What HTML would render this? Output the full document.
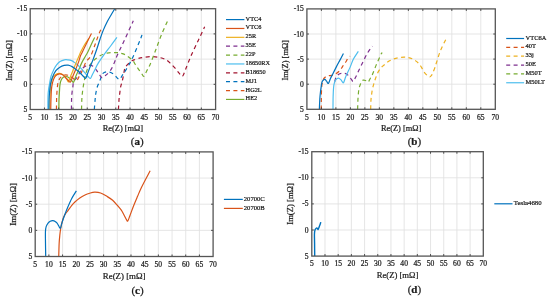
<!DOCTYPE html>
<html><head><meta charset="utf-8"><style>
html,body{margin:0;padding:0;background:#fff;overflow:hidden;}
svg{display:block;will-change:transform;}
text{font-family:"Liberation Serif", serif;stroke:#1a1a1a;stroke-width:0.22px;}
</style></head><body>
<svg width="550" height="299" viewBox="0 0 550 299" font-family='"Liberation Serif", serif' fill="#1a1a1a" stroke="none"><rect width="550" height="299" fill="#fff"/><path d="M44.46 8.70V109.50M58.72 8.70V109.50M72.98 8.70V109.50M87.25 8.70V109.50M101.51 8.70V109.50M115.77 8.70V109.50M130.03 8.70V109.50M144.29 8.70V109.50M158.55 8.70V109.50M172.82 8.70V109.50M187.08 8.70V109.50M201.34 8.70V109.50M30.20 33.90H215.60M30.20 59.10H215.60M30.20 84.30H215.60" stroke="#e0e0e0" stroke-width="0.85" fill="none"/><path d="M118.42 109.50 C118.52 107.85 118.79 102.40 119.02 99.62 C119.25 96.84 119.54 95.00 119.82 92.82 C120.10 90.63 120.27 88.60 120.70 86.52 C121.14 84.43 121.91 82.45 122.42 80.32 C122.92 78.18 123.34 75.74 123.76 73.72 C124.17 71.69 124.28 69.68 124.90 68.17 C125.51 66.66 126.37 65.82 127.46 64.64 C128.56 63.47 130.36 61.91 131.46 61.12 C132.55 60.32 132.84 60.32 134.02 59.86 C135.21 59.39 136.92 58.76 138.59 58.34 C140.25 57.92 141.73 57.63 144.01 57.34 C146.29 57.04 149.62 56.54 152.28 56.58 C154.94 56.62 157.75 57.08 159.98 57.59 C162.21 58.09 163.97 58.68 165.68 59.60 C167.40 60.53 168.68 61.70 170.25 63.13 C171.82 64.56 173.62 66.49 175.10 68.17 C176.57 69.85 177.85 71.87 179.09 73.21 C180.33 74.56 181.42 76.91 182.51 76.24 C183.61 75.56 184.18 72.71 185.65 69.18 C187.12 65.65 189.22 59.94 191.36 55.07 C193.49 50.20 196.28 44.65 198.49 39.95 C200.70 35.24 203.60 29.03 204.62 26.84" stroke="#A2142F" stroke-width="1.2" fill="none" stroke-linejoin="round" stroke-dasharray="4 3.4"/><path d="M94.32 109.50 C94.45 107.85 94.85 102.40 95.12 99.62 C95.38 96.84 95.54 95.00 95.92 92.82 C96.30 90.63 96.72 88.60 97.40 86.52 C98.08 84.43 99.31 82.03 100.00 80.32 C100.68 78.60 101.02 77.40 101.51 76.24 C102.00 75.08 102.17 74.08 102.93 73.36 C103.69 72.65 105.03 72.20 106.07 71.95 C107.12 71.71 107.90 71.51 109.21 71.90 C110.52 72.30 112.54 73.26 113.92 74.32 C115.29 75.38 116.48 77.43 117.48 78.25 C118.48 79.08 119.14 79.68 119.91 79.26 C120.67 78.84 121.07 77.24 122.04 75.73 C123.02 74.22 124.04 73.09 125.75 70.19 C127.46 67.29 129.98 63.22 132.31 58.34 C134.64 53.47 138.11 44.86 139.73 40.96 C141.34 37.05 141.63 35.92 142.01 34.91" stroke="#0072BD" stroke-width="1.2" fill="none" stroke-linejoin="round" stroke-dasharray="4 3.4"/><path d="M81.54 109.50 C81.59 107.82 81.68 102.20 81.83 99.42 C81.97 96.64 82.16 94.97 82.40 92.82 C82.63 90.67 82.92 88.60 83.25 86.52 C83.59 84.43 84.01 82.28 84.39 80.32 C84.77 78.35 85.04 76.58 85.53 74.72 C86.03 72.87 86.53 70.94 87.39 69.18 C88.24 67.42 89.55 65.65 90.67 64.14 C91.79 62.63 92.48 61.54 94.09 60.11 C95.71 58.68 98.18 56.75 100.37 55.57 C102.55 54.40 104.79 53.56 107.21 53.05 C109.64 52.55 112.77 52.55 114.91 52.55 C117.05 52.55 118.24 52.63 120.05 53.05 C121.85 53.47 123.71 53.89 125.75 55.07 C127.80 56.24 130.65 58.43 132.31 60.11 C133.98 61.79 134.59 63.47 135.74 65.15 C136.88 66.83 138.11 68.68 139.16 70.19 C140.20 71.70 141.20 73.21 142.01 74.22 C142.82 75.23 143.25 76.74 144.01 76.24 C144.77 75.73 145.58 73.13 146.57 71.20 C147.57 69.26 148.48 68.17 150.00 64.64 C151.52 61.12 153.80 54.98 155.70 50.03 C157.60 45.07 159.27 40.12 161.41 34.91 C163.55 29.70 167.35 21.47 168.54 18.78" stroke="#77AC30" stroke-width="1.2" fill="none" stroke-linejoin="round" stroke-dasharray="4 3.4"/><path d="M71.42 109.50 C71.44 107.82 71.46 102.20 71.56 99.42 C71.66 96.64 71.79 94.97 72.01 92.82 C72.24 90.67 72.62 88.44 72.90 86.52 C73.18 84.59 72.95 82.87 73.70 81.28 C74.45 79.68 76.29 78.62 77.41 76.94 C78.52 75.26 79.33 72.83 80.40 71.20 C81.47 69.57 82.44 68.17 83.82 67.16 C85.20 66.16 87.15 65.32 88.67 65.15 C90.19 64.98 91.71 65.40 92.95 66.16 C94.19 66.91 94.99 68.26 96.09 69.68 C97.18 71.11 98.51 73.38 99.51 74.72 C100.51 76.07 101.03 77.66 102.08 77.75 C103.12 77.83 104.36 76.49 105.79 75.23 C107.21 73.97 109.21 72.29 110.64 70.19 C112.06 68.09 113.23 65.15 114.34 62.63 C115.46 60.11 115.72 58.68 117.34 55.07 C118.95 51.46 121.38 46.67 124.04 40.96 C126.70 35.24 131.77 24.16 133.31 20.80" stroke="#7E2F8E" stroke-width="1.2" fill="none" stroke-linejoin="round" stroke-dasharray="4 3.4"/><path d="M56.44 109.50 C56.49 107.23 56.51 100.09 56.73 95.89 C56.94 91.69 57.25 87.16 57.72 84.30 C58.20 81.44 58.84 80.10 59.58 78.76 C60.32 77.41 61.24 76.87 62.15 76.24 C63.05 75.61 63.90 75.10 65.00 74.98 C66.09 74.85 67.47 75.02 68.71 75.48 C69.94 75.94 71.27 76.95 72.41 77.75 C73.56 78.55 74.70 79.97 75.55 80.27 C76.41 80.56 76.93 80.18 77.55 79.51 C78.17 78.84 78.59 77.45 79.26 76.24 C79.93 75.02 80.50 74.47 81.54 72.20 C82.59 69.94 84.63 64.56 85.53 62.63 C86.44 60.70 86.11 61.70 86.96 60.61 C87.82 59.52 89.43 58.43 90.67 56.08 C91.90 53.72 93.38 49.16 94.38 46.50 C95.38 43.84 95.80 42.45 96.66 40.10 C97.51 37.75 98.67 34.43 99.51 32.39 C100.35 30.35 101.34 28.61 101.71 27.85" stroke="#D95319" stroke-width="1.2" fill="none" stroke-linejoin="round" stroke-dasharray="4 3.4"/><path d="M58.87 109.50 C58.89 107.82 58.91 102.36 59.01 99.42 C59.10 96.48 59.27 94.38 59.44 91.86 C59.60 89.34 59.70 86.32 60.01 84.30 C60.32 82.28 60.74 80.94 61.29 79.76 C61.84 78.59 62.48 77.83 63.29 77.24 C64.09 76.66 65.19 76.15 66.14 76.24 C67.09 76.32 68.04 76.99 68.99 77.75 C69.94 78.50 71.06 80.06 71.84 80.77 C72.63 81.49 73.03 82.79 73.70 82.03 C74.36 81.28 75.10 78.04 75.84 76.24 C76.57 74.43 77.12 73.46 78.12 71.20 C79.12 68.93 80.59 65.15 81.83 62.63 C83.06 60.11 84.54 57.84 85.53 56.08 C86.53 54.31 86.87 53.98 87.82 52.04 C88.77 50.11 90.10 46.92 91.24 44.48 C92.38 42.05 94.09 38.60 94.66 37.43" stroke="#77AC30" stroke-width="1.2" fill="none" stroke-linejoin="round"/><path d="M47.88 109.50 C47.91 107.23 47.91 99.25 48.03 95.89 C48.15 92.53 48.36 91.27 48.60 89.34 C48.84 87.41 49.05 86.48 49.45 84.30 C49.86 82.12 50.33 78.61 51.02 76.24 C51.71 73.86 52.69 71.88 53.59 70.04 C54.49 68.19 55.37 66.55 56.44 65.15 C57.51 63.75 58.68 62.50 60.01 61.62 C61.34 60.74 63.10 60.15 64.43 59.86 C65.76 59.56 66.80 59.73 67.99 59.86 C69.18 59.98 70.49 60.19 71.56 60.61 C72.63 61.03 73.32 61.58 74.41 62.38 C75.50 63.17 76.93 64.31 78.12 65.40 C79.31 66.49 80.35 67.63 81.54 68.93 C82.73 70.23 84.13 71.91 85.25 73.21 C86.37 74.51 87.39 75.86 88.24 76.74 C89.10 77.62 89.74 78.76 90.38 78.50 C91.03 78.25 91.43 76.53 92.10 75.23 C92.76 73.93 93.35 72.71 94.38 70.69 C95.40 68.68 96.61 65.82 98.23 63.13 C99.84 60.44 102.01 57.42 104.07 54.56 C106.14 51.71 108.50 48.85 110.64 46.00 C112.77 43.14 115.86 38.86 116.91 37.43" stroke="#4DBEEE" stroke-width="1.2" fill="none" stroke-linejoin="round"/><path d="M49.74 109.50 C49.77 107.82 49.84 102.61 49.94 99.42 C50.03 96.23 50.15 92.87 50.31 90.35 C50.47 87.83 50.57 86.15 50.88 84.30 C51.19 82.45 51.66 80.65 52.16 79.26 C52.66 77.87 53.16 76.84 53.87 75.98 C54.59 75.13 55.49 74.56 56.44 74.12 C57.39 73.68 58.63 73.35 59.58 73.36 C60.53 73.38 61.36 73.78 62.15 74.22 C62.93 74.66 63.67 75.35 64.29 75.98 C64.90 76.61 65.38 77.33 65.85 78.00 C66.33 78.67 66.69 79.39 67.14 80.02 C67.59 80.65 68.02 82.33 68.56 81.78 C69.11 81.23 69.73 78.50 70.42 76.74 C71.11 74.98 71.68 73.72 72.70 71.20 C73.72 68.68 75.50 64.14 76.55 61.62 C77.60 59.10 78.29 57.67 78.97 56.08 C79.66 54.48 79.78 53.89 80.69 52.04 C81.59 50.20 83.02 47.26 84.39 44.99 C85.77 42.72 88.20 39.53 88.96 38.44" stroke="#EDB120" stroke-width="1.2" fill="none" stroke-linejoin="round"/><path d="M50.74 109.50 C50.77 107.82 50.85 102.78 50.96 99.42 C51.08 96.06 51.25 91.86 51.45 89.34 C51.65 86.82 51.81 85.98 52.16 84.30 C52.52 82.62 52.97 80.73 53.59 79.26 C54.21 77.79 54.87 76.39 55.87 75.48 C56.87 74.57 58.44 73.94 59.58 73.82 C60.72 73.69 61.77 74.15 62.72 74.72 C63.67 75.30 64.38 76.32 65.28 77.24 C66.19 78.17 67.28 79.47 68.14 80.27 C68.99 81.07 69.75 82.45 70.42 82.03 C71.08 81.61 71.37 79.55 72.13 77.75 C72.89 75.94 73.89 73.88 74.98 71.20 C76.07 68.51 77.79 64.14 78.69 61.62 C79.59 59.10 79.78 57.67 80.40 56.08 C81.02 54.48 81.30 54.31 82.40 52.04 C83.49 49.78 85.44 45.58 86.96 42.47 C88.48 39.36 90.76 34.91 91.52 33.40" stroke="#D95319" stroke-width="1.2" fill="none" stroke-linejoin="round"/><path d="M48.88 109.50 C48.92 107.82 48.96 102.36 49.08 99.42 C49.20 96.48 49.37 94.38 49.60 91.86 C49.82 89.34 49.98 86.74 50.45 84.30 C50.93 81.86 51.54 79.51 52.45 77.24 C53.35 74.98 54.63 72.37 55.87 70.69 C57.11 69.01 58.49 68.05 59.86 67.16 C61.24 66.28 62.76 65.74 64.14 65.40 C65.52 65.06 66.90 64.98 68.14 65.15 C69.37 65.32 70.51 65.90 71.56 66.41 C72.60 66.91 73.41 67.46 74.41 68.17 C75.41 68.89 76.50 69.81 77.55 70.69 C78.59 71.57 79.69 72.50 80.69 73.46 C81.68 74.43 82.71 75.69 83.54 76.49 C84.37 77.29 85.06 78.55 85.68 78.25 C86.30 77.96 86.68 76.19 87.25 74.72 C87.82 73.25 88.43 71.20 89.10 69.43 C89.77 67.67 90.55 65.86 91.24 64.14 C91.93 62.42 92.33 61.54 93.24 59.10 C94.14 56.66 95.52 52.88 96.66 49.52 C97.80 46.16 98.99 42.13 100.08 38.94 C101.17 35.75 102.03 33.23 103.22 30.37 C104.41 27.52 105.93 24.32 107.21 21.80 C108.50 19.28 109.66 17.44 110.92 15.25 C112.18 13.07 114.13 9.79 114.77 8.70" stroke="#0072BD" stroke-width="1.2" fill="none" stroke-linejoin="round"/><path d="M44.46 109.50v-2.0M44.46 8.70v2.0M58.72 109.50v-2.0M58.72 8.70v2.0M72.98 109.50v-2.0M72.98 8.70v2.0M87.25 109.50v-2.0M87.25 8.70v2.0M101.51 109.50v-2.0M101.51 8.70v2.0M115.77 109.50v-2.0M115.77 8.70v2.0M130.03 109.50v-2.0M130.03 8.70v2.0M144.29 109.50v-2.0M144.29 8.70v2.0M158.55 109.50v-2.0M158.55 8.70v2.0M172.82 109.50v-2.0M172.82 8.70v2.0M187.08 109.50v-2.0M187.08 8.70v2.0M201.34 109.50v-2.0M201.34 8.70v2.0M30.20 33.90h2.0M215.60 33.90h-2.0M30.20 59.10h2.0M215.60 59.10h-2.0M30.20 84.30h2.0M215.60 84.30h-2.0" stroke="#333" stroke-width="0.9" fill="none"/><rect x="30.20" y="8.70" width="185.40" height="100.80" stroke="#555" stroke-width="1.3" fill="none"/><text x="30.20" y="119.61" text-anchor="middle" font-size="7.6">5</text><text x="44.46" y="119.61" text-anchor="middle" font-size="7.6">10</text><text x="58.72" y="119.61" text-anchor="middle" font-size="7.6">15</text><text x="72.98" y="119.61" text-anchor="middle" font-size="7.6">20</text><text x="87.25" y="119.61" text-anchor="middle" font-size="7.6">25</text><text x="101.51" y="119.61" text-anchor="middle" font-size="7.6">30</text><text x="115.77" y="119.61" text-anchor="middle" font-size="7.6">35</text><text x="130.03" y="119.61" text-anchor="middle" font-size="7.6">40</text><text x="144.29" y="119.61" text-anchor="middle" font-size="7.6">45</text><text x="158.55" y="119.61" text-anchor="middle" font-size="7.6">50</text><text x="172.82" y="119.61" text-anchor="middle" font-size="7.6">55</text><text x="187.08" y="119.61" text-anchor="middle" font-size="7.6">60</text><text x="201.34" y="119.61" text-anchor="middle" font-size="7.6">65</text><text x="215.60" y="119.61" text-anchor="middle" font-size="7.6">70</text><text x="27.20" y="11.21" text-anchor="end" font-size="7.6">-15</text><text x="27.20" y="36.41" text-anchor="end" font-size="7.6">-10</text><text x="27.20" y="61.61" text-anchor="end" font-size="7.6">-5</text><text x="27.20" y="86.81" text-anchor="end" font-size="7.6">0</text><text x="27.20" y="112.01" text-anchor="end" font-size="7.6">5</text><text x="122.90" y="131.07" text-anchor="middle" font-size="8.4">Re(Z) [mΩ]</text><text transform="translate(12.37 60.50) rotate(-90)" text-anchor="middle" font-size="8.4">Im(Z) [mΩ]</text><text x="137.20" y="145.10" text-anchor="middle" font-size="11">(<tspan font-weight="bold">a</tspan>)</text><path d="M321.39 8.90V109.30M335.88 8.90V109.30M350.38 8.90V109.30M364.87 8.90V109.30M379.36 8.90V109.30M393.85 8.90V109.30M408.35 8.90V109.30M422.84 8.90V109.30M437.33 8.90V109.30M451.82 8.90V109.30M466.32 8.90V109.30M480.81 8.90V109.30M306.90 34.00H495.30M306.90 59.10H495.30M306.90 84.20H495.30" stroke="#e0e0e0" stroke-width="0.85" fill="none"/><path d="M370.67 109.30 C370.71 107.79 370.81 102.65 370.96 100.26 C371.10 97.88 371.29 96.83 371.54 94.99 C371.78 93.15 372.04 91.02 372.41 89.22 C372.77 87.42 373.18 86.04 373.71 84.20 C374.24 82.36 374.87 80.18 375.59 78.18 C376.32 76.17 377.14 73.91 378.06 72.15 C378.98 70.39 380.01 68.89 381.10 67.63 C382.19 66.38 383.32 65.67 384.58 64.62 C385.83 63.58 387.19 62.28 388.64 61.36 C390.09 60.44 391.68 59.71 393.27 59.10 C394.87 58.49 396.41 58.01 398.20 57.69 C399.99 57.38 402.31 57.21 404.00 57.19 C405.69 57.18 406.99 57.34 408.35 57.59 C409.70 57.84 410.95 58.20 412.11 58.70 C413.27 59.20 414.19 59.80 415.30 60.61 C416.41 61.41 417.72 62.35 418.78 63.52 C419.84 64.69 420.79 66.19 421.68 67.63 C422.57 69.07 423.22 70.86 424.14 72.15 C425.06 73.45 426.27 74.60 427.19 75.42 C428.10 76.23 428.93 77.02 429.65 77.02 C430.37 77.02 431.00 76.14 431.53 75.42 C432.07 74.69 432.31 73.87 432.84 72.65 C433.37 71.44 434.17 69.66 434.72 68.14 C435.28 66.61 435.21 66.45 436.17 63.52 C437.14 60.59 438.88 54.65 440.52 50.57 C442.16 46.48 445.11 40.94 446.03 39.02" stroke="#EDB120" stroke-width="1.2" fill="none" stroke-linejoin="round" stroke-dasharray="4 3.4"/><path d="M357.62 109.30 C357.67 107.79 357.78 102.94 357.91 100.26 C358.04 97.59 358.21 95.24 358.41 93.24 C358.60 91.23 358.80 89.55 359.07 88.22 C359.35 86.88 359.67 86.29 360.06 85.20 C360.44 84.12 360.88 82.53 361.39 81.69 C361.90 80.85 362.45 80.39 363.13 80.18 C363.81 79.97 364.63 80.10 365.45 80.44 C366.27 80.77 367.28 82.48 368.06 82.19 C368.83 81.90 369.41 79.85 370.09 78.68 C370.76 77.51 371.10 77.42 372.12 75.16 C373.13 72.90 374.68 68.64 376.17 65.12 C377.67 61.61 380.09 56.17 381.10 54.08 C382.12 51.99 382.07 52.82 382.26 52.57" stroke="#77AC30" stroke-width="1.2" fill="none" stroke-linejoin="round" stroke-dasharray="4 3.4"/><path d="M334.73 81.69 C334.92 81.02 335.26 78.89 335.88 77.67 C336.51 76.46 337.53 75.12 338.49 74.41 C339.46 73.70 340.47 73.53 341.68 73.41 C342.89 73.28 344.53 73.20 345.74 73.66 C346.95 74.12 348.01 75.25 348.93 76.17 C349.85 77.09 350.52 78.30 351.25 79.18 C351.97 80.06 352.55 81.77 353.28 81.44 C354.00 81.10 354.82 78.68 355.59 77.17 C356.37 75.67 356.73 74.86 357.91 72.40 C359.10 69.94 361.10 65.63 362.70 62.41 C364.29 59.19 365.86 55.80 367.48 53.08 C369.10 50.35 371.58 47.22 372.41 46.05" stroke="#7E2F8E" stroke-width="1.2" fill="none" stroke-linejoin="round" stroke-dasharray="4 3.4"/><path d="M332.99 109.30 C333.01 107.21 333.03 100.35 333.13 96.75 C333.23 93.15 333.35 90.06 333.57 87.71 C333.78 85.37 334.05 84.03 334.44 82.69 C334.82 81.36 335.21 80.44 335.88 79.68 C336.56 78.93 337.67 78.18 338.49 78.18 C339.31 78.18 340.16 79.05 340.81 79.68 C341.46 80.31 341.94 81.44 342.41 81.94 C342.87 82.44 343.18 83.15 343.59 82.69 C344.01 82.23 344.42 80.44 344.87 79.18 C345.32 77.93 345.47 77.09 346.32 75.16 C347.16 73.24 348.76 70.31 349.94 67.63 C351.13 64.96 352.02 61.82 353.42 59.10 C354.82 56.38 357.53 52.62 358.35 51.32" stroke="#4DBEEE" stroke-width="1.2" fill="none" stroke-linejoin="round"/><path d="M321.25 109.30 C321.27 106.79 321.30 98.17 321.39 94.24 C321.49 90.31 321.56 88.08 321.83 85.71 C322.09 83.33 322.33 81.49 322.99 79.98 C323.64 78.48 324.80 77.39 325.74 76.67 C326.68 75.95 327.64 75.88 328.64 75.67 C329.63 75.46 330.50 75.75 331.71 75.42 C332.92 75.08 334.55 74.44 335.88 73.66 C337.22 72.87 338.74 71.64 339.71 70.70 C340.68 69.75 341.01 68.99 341.68 67.99 C342.35 66.98 343.03 65.67 343.71 64.67 C344.39 63.68 345.07 63.01 345.74 62.01 C346.41 61.02 347.00 59.69 347.71 58.70 C348.42 57.71 349.62 56.52 350.00 56.09" stroke="#D95319" stroke-width="1.2" fill="none" stroke-linejoin="round" stroke-dasharray="4 3.4"/><path d="M319.36 109.30 C319.44 107.63 319.63 102.02 319.80 99.26 C319.97 96.50 320.17 94.62 320.38 92.73 C320.58 90.84 320.82 89.34 321.02 87.91 C321.21 86.49 321.33 85.29 321.54 84.20 C321.74 83.11 321.92 82.10 322.26 81.39 C322.60 80.68 323.11 80.27 323.57 79.93 C324.03 79.60 324.51 79.17 325.02 79.38 C325.52 79.59 326.05 80.52 326.61 81.19 C327.17 81.86 327.72 83.82 328.35 83.40 C328.98 82.98 329.70 80.13 330.38 78.68 C331.05 77.22 331.39 76.67 332.41 74.66 C333.42 72.65 335.21 69.06 336.46 66.63 C337.72 64.20 338.78 62.28 339.94 60.10 C341.10 57.93 342.84 54.67 343.42 53.58" stroke="#0072BD" stroke-width="1.2" fill="none" stroke-linejoin="round"/><path d="M321.39 109.30v-2.0M321.39 8.90v2.0M335.88 109.30v-2.0M335.88 8.90v2.0M350.38 109.30v-2.0M350.38 8.90v2.0M364.87 109.30v-2.0M364.87 8.90v2.0M379.36 109.30v-2.0M379.36 8.90v2.0M393.85 109.30v-2.0M393.85 8.90v2.0M408.35 109.30v-2.0M408.35 8.90v2.0M422.84 109.30v-2.0M422.84 8.90v2.0M437.33 109.30v-2.0M437.33 8.90v2.0M451.82 109.30v-2.0M451.82 8.90v2.0M466.32 109.30v-2.0M466.32 8.90v2.0M480.81 109.30v-2.0M480.81 8.90v2.0M306.90 34.00h2.0M495.30 34.00h-2.0M306.90 59.10h2.0M495.30 59.10h-2.0M306.90 84.20h2.0M495.30 84.20h-2.0" stroke="#333" stroke-width="0.9" fill="none"/><rect x="306.90" y="8.90" width="188.40" height="100.40" stroke="#555" stroke-width="1.3" fill="none"/><text x="306.90" y="119.51" text-anchor="middle" font-size="7.6">5</text><text x="321.39" y="119.51" text-anchor="middle" font-size="7.6">10</text><text x="335.88" y="119.51" text-anchor="middle" font-size="7.6">15</text><text x="350.38" y="119.51" text-anchor="middle" font-size="7.6">20</text><text x="364.87" y="119.51" text-anchor="middle" font-size="7.6">25</text><text x="379.36" y="119.51" text-anchor="middle" font-size="7.6">30</text><text x="393.85" y="119.51" text-anchor="middle" font-size="7.6">35</text><text x="408.35" y="119.51" text-anchor="middle" font-size="7.6">40</text><text x="422.84" y="119.51" text-anchor="middle" font-size="7.6">45</text><text x="437.33" y="119.51" text-anchor="middle" font-size="7.6">50</text><text x="451.82" y="119.51" text-anchor="middle" font-size="7.6">55</text><text x="466.32" y="119.51" text-anchor="middle" font-size="7.6">60</text><text x="480.81" y="119.51" text-anchor="middle" font-size="7.6">65</text><text x="495.30" y="119.51" text-anchor="middle" font-size="7.6">70</text><text x="303.80" y="11.41" text-anchor="end" font-size="7.6">-15</text><text x="303.80" y="36.51" text-anchor="end" font-size="7.6">-10</text><text x="303.80" y="61.61" text-anchor="end" font-size="7.6">-5</text><text x="303.80" y="86.71" text-anchor="end" font-size="7.6">0</text><text x="303.80" y="111.81" text-anchor="end" font-size="7.6">5</text><text x="401.10" y="131.07" text-anchor="middle" font-size="8.4">Re(Z) [mΩ]</text><text transform="translate(288.07 60.30) rotate(-90)" text-anchor="middle" font-size="8.4">Im(Z) [mΩ]</text><text x="414.40" y="145.20" text-anchor="middle" font-size="11">(<tspan font-weight="bold">b</tspan>)</text><path d="M48.88 151.90V256.50M62.57 151.90V256.50M76.25 151.90V256.50M89.94 151.90V256.50M103.62 151.90V256.50M117.31 151.90V256.50M130.99 151.90V256.50M144.68 151.90V256.50M158.36 151.90V256.50M172.05 151.90V256.50M185.73 151.90V256.50M199.42 151.90V256.50M35.20 178.05H213.10M35.20 204.20H213.10M35.20 230.35H213.10" stroke="#e0e0e0" stroke-width="0.85" fill="none"/><path d="M58.74 256.50 C58.81 254.32 58.97 247.00 59.15 243.43 C59.33 239.85 59.58 237.50 59.83 235.06 C60.08 232.62 60.38 230.52 60.65 228.78 C60.93 227.04 61.02 226.43 61.47 224.60 C61.93 222.77 62.71 219.63 63.39 217.80 C64.07 215.97 64.76 214.90 65.58 213.61 C66.40 212.33 67.31 211.46 68.32 210.11 C69.32 208.76 70.46 206.90 71.60 205.51 C72.74 204.11 73.79 203.01 75.16 201.74 C76.53 200.48 78.17 199.05 79.81 197.92 C81.45 196.80 83.37 195.78 85.01 195.00 C86.65 194.21 88.07 193.69 89.66 193.22 C91.26 192.75 92.77 192.21 94.59 192.17 C96.42 192.13 98.56 192.26 100.61 192.96 C102.67 193.65 104.90 195.13 106.91 196.36 C108.91 197.58 110.89 198.75 112.65 200.28 C114.42 201.80 116.09 203.89 117.50 205.51 C118.91 207.12 120.03 208.34 121.14 209.95 C122.25 211.57 123.28 213.61 124.15 215.18 C125.02 216.75 125.75 218.38 126.34 219.37 C126.93 220.35 127.11 221.70 127.71 221.09 C128.30 220.48 128.89 218.30 129.90 215.71 C130.90 213.11 132.45 208.73 133.73 205.51 C135.01 202.28 136.24 199.45 137.56 196.36 C138.88 193.26 139.57 191.21 141.67 186.94 C143.76 182.67 148.74 173.43 150.15 170.73" stroke="#D95319" stroke-width="1.2" fill="none" stroke-linejoin="round"/><path d="M45.71 256.50 C45.67 253.88 45.50 244.99 45.46 240.81 C45.42 236.63 45.35 233.75 45.46 231.40 C45.58 229.04 45.71 228.06 46.15 226.69 C46.58 225.32 47.38 224.10 48.06 223.18 C48.75 222.27 49.45 221.62 50.25 221.20 C51.05 220.77 52.03 220.58 52.85 220.62 C53.67 220.67 54.47 221.03 55.18 221.46 C55.89 221.89 56.50 222.44 57.10 223.18 C57.69 223.93 58.19 225.06 58.74 225.90 C59.28 226.75 59.88 228.65 60.38 228.26 C60.88 227.87 61.25 225.18 61.75 223.55 C62.25 221.92 62.41 221.14 63.39 218.48 C64.37 215.82 66.24 210.94 67.63 207.60 C69.02 204.26 70.28 201.24 71.74 198.45 C73.20 195.66 75.62 192.13 76.39 190.86" stroke="#0072BD" stroke-width="1.2" fill="none" stroke-linejoin="round"/><path d="M48.88 256.50v-2.0M48.88 151.90v2.0M62.57 256.50v-2.0M62.57 151.90v2.0M76.25 256.50v-2.0M76.25 151.90v2.0M89.94 256.50v-2.0M89.94 151.90v2.0M103.62 256.50v-2.0M103.62 151.90v2.0M117.31 256.50v-2.0M117.31 151.90v2.0M130.99 256.50v-2.0M130.99 151.90v2.0M144.68 256.50v-2.0M144.68 151.90v2.0M158.36 256.50v-2.0M158.36 151.90v2.0M172.05 256.50v-2.0M172.05 151.90v2.0M185.73 256.50v-2.0M185.73 151.90v2.0M199.42 256.50v-2.0M199.42 151.90v2.0M35.20 178.05h2.0M213.10 178.05h-2.0M35.20 204.20h2.0M213.10 204.20h-2.0M35.20 230.35h2.0M213.10 230.35h-2.0" stroke="#333" stroke-width="0.9" fill="none"/><rect x="35.20" y="151.90" width="177.90" height="104.60" stroke="#555" stroke-width="1.3" fill="none"/><text x="35.20" y="266.61" text-anchor="middle" font-size="7.6">5</text><text x="48.88" y="266.61" text-anchor="middle" font-size="7.6">10</text><text x="62.57" y="266.61" text-anchor="middle" font-size="7.6">15</text><text x="76.25" y="266.61" text-anchor="middle" font-size="7.6">20</text><text x="89.94" y="266.61" text-anchor="middle" font-size="7.6">25</text><text x="103.62" y="266.61" text-anchor="middle" font-size="7.6">30</text><text x="117.31" y="266.61" text-anchor="middle" font-size="7.6">35</text><text x="130.99" y="266.61" text-anchor="middle" font-size="7.6">40</text><text x="144.68" y="266.61" text-anchor="middle" font-size="7.6">45</text><text x="158.36" y="266.61" text-anchor="middle" font-size="7.6">50</text><text x="172.05" y="266.61" text-anchor="middle" font-size="7.6">55</text><text x="185.73" y="266.61" text-anchor="middle" font-size="7.6">60</text><text x="199.42" y="266.61" text-anchor="middle" font-size="7.6">65</text><text x="213.10" y="266.61" text-anchor="middle" font-size="7.6">70</text><text x="32.20" y="154.41" text-anchor="end" font-size="7.6">-15</text><text x="32.20" y="180.56" text-anchor="end" font-size="7.6">-10</text><text x="32.20" y="206.71" text-anchor="end" font-size="7.6">-5</text><text x="32.20" y="232.86" text-anchor="end" font-size="7.6">0</text><text x="32.20" y="259.01" text-anchor="end" font-size="7.6">5</text><text x="124.15" y="279.22" text-anchor="middle" font-size="8.85">Re(Z) [mΩ]</text><text transform="translate(16.32 204.35) rotate(-90)" text-anchor="middle" font-size="8.85">Im(Z) [mΩ]</text><text x="137.50" y="293.70" text-anchor="middle" font-size="11">(<tspan font-weight="bold">c</tspan>)</text><path d="M324.99 151.70V256.10M338.18 151.70V256.10M351.38 151.70V256.10M364.57 151.70V256.10M377.76 151.70V256.10M390.95 151.70V256.10M404.15 151.70V256.10M417.34 151.70V256.10M430.53 151.70V256.10M443.72 151.70V256.10M456.92 151.70V256.10M470.11 151.70V256.10M311.80 177.80H483.30M311.80 203.90H483.30M311.80 230.00H483.30" stroke="#e0e0e0" stroke-width="0.85" fill="none"/><path d="M314.70 256.10 C314.68 253.93 314.61 246.70 314.57 243.05 C314.53 239.40 314.37 236.35 314.44 234.18 C314.50 232.00 314.70 230.96 314.97 230.00 C315.23 229.04 315.71 228.78 316.02 228.43 C316.33 228.09 316.57 227.91 316.81 227.91 C317.05 227.91 317.25 228.17 317.47 228.43 C317.69 228.70 317.85 229.74 318.13 229.48 C318.42 229.22 318.88 227.65 319.19 226.87 C319.50 226.09 319.72 225.56 319.98 224.78 C320.24 224.00 320.64 222.61 320.77 222.17" stroke="#0072BD" stroke-width="1.4" fill="none" stroke-linejoin="round"/><path d="M324.99 256.10v-2.0M324.99 151.70v2.0M338.18 256.10v-2.0M338.18 151.70v2.0M351.38 256.10v-2.0M351.38 151.70v2.0M364.57 256.10v-2.0M364.57 151.70v2.0M377.76 256.10v-2.0M377.76 151.70v2.0M390.95 256.10v-2.0M390.95 151.70v2.0M404.15 256.10v-2.0M404.15 151.70v2.0M417.34 256.10v-2.0M417.34 151.70v2.0M430.53 256.10v-2.0M430.53 151.70v2.0M443.72 256.10v-2.0M443.72 151.70v2.0M456.92 256.10v-2.0M456.92 151.70v2.0M470.11 256.10v-2.0M470.11 151.70v2.0M311.80 177.80h2.0M483.30 177.80h-2.0M311.80 203.90h2.0M483.30 203.90h-2.0M311.80 230.00h2.0M483.30 230.00h-2.0" stroke="#333" stroke-width="0.9" fill="none"/><rect x="311.80" y="151.70" width="171.50" height="104.40" stroke="#555" stroke-width="1.3" fill="none"/><text x="311.80" y="265.61" text-anchor="middle" font-size="7.6">5</text><text x="324.99" y="265.61" text-anchor="middle" font-size="7.6">10</text><text x="338.18" y="265.61" text-anchor="middle" font-size="7.6">15</text><text x="351.38" y="265.61" text-anchor="middle" font-size="7.6">20</text><text x="364.57" y="265.61" text-anchor="middle" font-size="7.6">25</text><text x="377.76" y="265.61" text-anchor="middle" font-size="7.6">30</text><text x="390.95" y="265.61" text-anchor="middle" font-size="7.6">35</text><text x="404.15" y="265.61" text-anchor="middle" font-size="7.6">40</text><text x="417.34" y="265.61" text-anchor="middle" font-size="7.6">45</text><text x="430.53" y="265.61" text-anchor="middle" font-size="7.6">50</text><text x="443.72" y="265.61" text-anchor="middle" font-size="7.6">55</text><text x="456.92" y="265.61" text-anchor="middle" font-size="7.6">60</text><text x="470.11" y="265.61" text-anchor="middle" font-size="7.6">65</text><text x="483.30" y="265.61" text-anchor="middle" font-size="7.6">70</text><text x="308.50" y="154.21" text-anchor="end" font-size="7.6">-15</text><text x="308.50" y="180.31" text-anchor="end" font-size="7.6">-10</text><text x="308.50" y="206.41" text-anchor="end" font-size="7.6">-5</text><text x="308.50" y="232.51" text-anchor="end" font-size="7.6">0</text><text x="308.50" y="258.61" text-anchor="end" font-size="7.6">5</text><text x="397.55" y="278.45" text-anchor="middle" font-size="8.65">Re(Z) [mΩ]</text><text transform="translate(293.25 203.90) rotate(-90)" text-anchor="middle" font-size="8.65">Im(Z) [mΩ]</text><text x="414.40" y="292.90" text-anchor="middle" font-size="11">(<tspan font-weight="bold">d</tspan>)</text><path d="M226.0 19.60H244.4" stroke="#0072BD" stroke-width="1.2"/><text x="245.6" y="20.61" font-size="6.3">VTC4</text><path d="M226.0 28.47H244.4" stroke="#D95319" stroke-width="1.2"/><text x="245.6" y="29.47" font-size="6.3">VTC6</text><path d="M226.0 37.34H244.4" stroke="#EDB120" stroke-width="1.2"/><text x="245.6" y="38.34" font-size="6.3">25R</text><path d="M226.0 46.21H244.4" stroke="#7E2F8E" stroke-width="1.2" stroke-dasharray="4 3.4"/><text x="245.6" y="47.21" font-size="6.3">35E</text><path d="M226.0 55.08H244.4" stroke="#77AC30" stroke-width="1.2" stroke-dasharray="4 3.4"/><text x="245.6" y="56.08" font-size="6.3">22P</text><path d="M226.0 63.95H244.4" stroke="#4DBEEE" stroke-width="1.2"/><text x="245.6" y="64.95" font-size="6.3">18650RX</text><path d="M226.0 72.82H244.4" stroke="#A2142F" stroke-width="1.2" stroke-dasharray="4 3.4"/><text x="245.6" y="73.82" font-size="6.3">B18650</text><path d="M226.0 81.69H244.4" stroke="#0072BD" stroke-width="1.2" stroke-dasharray="4 3.4"/><text x="245.6" y="82.69" font-size="6.3">MJ1</text><path d="M226.0 90.56H244.4" stroke="#D95319" stroke-width="1.2" stroke-dasharray="4 3.4"/><text x="245.6" y="91.56" font-size="6.3">HG2L</text><path d="M226.0 99.43H244.4" stroke="#77AC30" stroke-width="1.2"/><text x="245.6" y="100.44" font-size="6.3">HE2</text><path d="M506.2 38.50H524.1" stroke="#0072BD" stroke-width="1.2"/><text x="525.6" y="39.56" font-size="6.45">VTC6A</text><path d="M506.2 47.35H524.1" stroke="#D95319" stroke-width="1.2" stroke-dasharray="4 3.4"/><text x="525.6" y="48.41" font-size="6.45">40T</text><path d="M506.2 56.20H524.1" stroke="#EDB120" stroke-width="1.2" stroke-dasharray="4 3.4"/><text x="525.6" y="57.26" font-size="6.45">33j</text><path d="M506.2 65.05H524.1" stroke="#7E2F8E" stroke-width="1.2" stroke-dasharray="4 3.4"/><text x="525.6" y="66.11" font-size="6.45">50E</text><path d="M506.2 73.90H524.1" stroke="#77AC30" stroke-width="1.2" stroke-dasharray="4 3.4"/><text x="525.6" y="74.96" font-size="6.45">M50T</text><path d="M506.2 82.75H524.1" stroke="#4DBEEE" stroke-width="1.2"/><text x="525.6" y="83.81" font-size="6.45">M50LT</text><path d="M223.9 199.40H242.8" stroke="#0072BD" stroke-width="1.2"/><text x="243.8" y="200.51" font-size="6.6">20700C</text><path d="M223.9 208.40H242.8" stroke="#D95319" stroke-width="1.2"/><text x="243.8" y="209.51" font-size="6.6">20700B</text><path d="M494.3 203.80H512.5" stroke="#0072BD" stroke-width="1.2"/><text x="513.8" y="204.98" font-size="6.8">Tesla4680</text></svg>
</body></html>
